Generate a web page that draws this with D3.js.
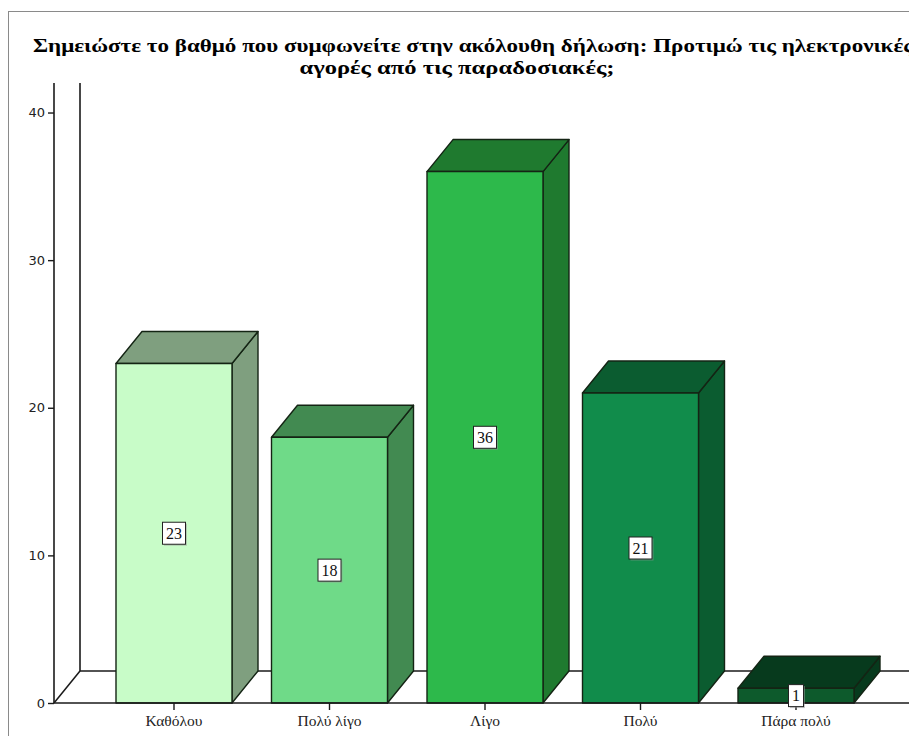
<!DOCTYPE html>
<html>
<head>
<meta charset="utf-8">
<script src="https://cdn.jsdelivr.net/npm/d3@7/dist/d3.min.js"></script>
<style>
  html, body { margin: 0; padding: 0; background: #ffffff; }
  svg { display: block; }
</style>
</head>
<body>
<svg id="chart" width="909" height="736"></svg>
<script>
// Responses to: "Σημειώστε το βαθμό που συμφωνείτε ..." (counts)
const categories = ["Καθόλου", "Πολύ λίγο", "Λίγο", "Πολύ", "Πάρα πολύ"];
const counts = [23, 18, 36, 21, 1];
const yTicks = [0, 10, 20, 30, 40];
const frontColors = ["#c8fcc8", "#6fda88", "#2db94b", "#118c4b", "#0d5a2c"];
const sideColors = ["#7f9f7f", "#428a51", "#1f7a2f", "#0b5c30", "#073a1d"];
const titleLines = [
  "Σημειώστε το βαθμό που συμφωνείτε στην ακόλουθη δήλωση: Προτιμώ τις ηλεκτρονικές",
  "αγορές από τις παραδοσιακές;"
];

const svg = d3.select("#chart");
const W = 909, H = 736;

// 3D depth offset of the bars and the floor
const dx = 26, dy = 32;

const y = d3.scaleLinear().domain([0, 42]).range([703, 83]);
const x = d3.scaleBand()
  .domain(categories)
  .range([96.25, 873.75])
  .paddingInner(0.254)
  .paddingOuter(0.127);

// outer frame
svg.append("rect")
  .attr("x", 8.5).attr("y", 11.5)
  .attr("width", W + 20).attr("height", H + 20)
  .attr("fill", "none")
  .attr("stroke", "#8a8a8a")
  .attr("stroke-width", 1);

// title, two centred lines
const titleLayout = [
  { x: 473, y: 52, len: 880 },
  { x: 457, y: 74, len: 315 }
];
titleLines.forEach((t, i) => {
  svg.append("text")
    .attr("x", titleLayout[i].x).attr("y", titleLayout[i].y)
    .attr("text-anchor", "middle")
    .attr("font-family", "'Liberation Serif', 'Times New Roman', serif")
    .attr("font-weight", "bold")
    .attr("font-size", 18.5)
    .attr("textLength", titleLayout[i].len)
    .attr("lengthAdjust", "spacingAndGlyphs")
    .attr("fill", "#000")
    .text(t);
});

const y0 = y(0);
const axisStroke = "#1a1a1a";

// back wall and floor outline
const floor = svg.append("g").attr("stroke", axisStroke).attr("stroke-width", 1.6).attr("fill", "none");
floor.append("line").attr("x1", 54 + dx).attr("x2", 54 + dx).attr("y1", y(42)).attr("y2", y0 - dy);
floor.append("line").attr("x1", 54 + dx).attr("x2", W + 5).attr("y1", y0 - dy).attr("y2", y0 - dy);
floor.append("line").attr("x1", 54).attr("x2", 54 + dx).attr("y1", y0).attr("y2", y0 - dy);

// y axis
const yAxis = d3.axisLeft(y).tickValues(yTicks).tickSize(6).tickPadding(3).tickFormat(d3.format("d"));
const gy = svg.append("g").attr("transform", "translate(54,0)").call(yAxis);
gy.select(".domain").attr("stroke", axisStroke).attr("stroke-width", 1.6).attr("d", `M0,${y(42)}V${y0}`);
gy.selectAll(".tick line").attr("stroke", axisStroke).attr("stroke-width", 1.4);
gy.selectAll(".tick text")
  .attr("font-family", "'DejaVu Sans', Tahoma, sans-serif")
  .attr("font-size", 13)
  .attr("fill", "#222");

// bars as 3D boxes
const bars = svg.append("g").selectAll("g.bar")
  .data(categories.map((c, i) => ({ c, v: counts[i], i })))
  .join("g").attr("class", "bar");

bars.each(function (d) {
  const g = d3.select(this);
  const x0 = x(d.c), x1 = x0 + x.bandwidth(), top = y(d.v);
  const line = d3.line();
  // side face
  g.append("path")
    .attr("d", line([[x1, y0], [x1 + dx, y0 - dy], [x1 + dx, top - dy], [x1, top]]) + "Z")
    .attr("fill", sideColors[d.i]);
  // top face
  g.append("path")
    .attr("d", line([[x0, top], [x0 + dx, top - dy], [x1 + dx, top - dy], [x1, top]]) + "Z")
    .attr("fill", sideColors[d.i]);
  // front face
  g.append("rect")
    .attr("x", x0).attr("y", top)
    .attr("width", x.bandwidth()).attr("height", y0 - top)
    .attr("fill", frontColors[d.i]);
  g.selectAll("path, rect")
    .attr("stroke", "#142414")
    .attr("stroke-width", 1.4)
    .attr("stroke-linejoin", "round");
});

// front baseline (x axis)
const xAxis = d3.axisBottom(x).tickSize(7).tickPadding(5);
const gx = svg.append("g").attr("transform", `translate(0,${y0})`).call(xAxis);
gx.select(".domain").attr("stroke", axisStroke).attr("stroke-width", 1.6).attr("d", `M54,0H${W + 5}`);
gx.selectAll(".tick line").attr("stroke", axisStroke).attr("stroke-width", 1.4);
gx.selectAll(".tick text")
  .attr("font-family", "'Liberation Serif', 'Times New Roman', serif")
  .attr("font-size", 15.5)
  .attr("fill", "#222");

// value labels in the middle of each front face
const labels = svg.append("g").selectAll("g.lbl")
  .data(categories.map((c, i) => ({ c, v: counts[i] })))
  .join("g").attr("class", "lbl");

labels.each(function (d) {
  const g = d3.select(this);
  const cx = x(d.c) + x.bandwidth() / 2;
  const cy = (y(d.v) + y0) / 2;
  const t = g.append("text")
    .attr("x", cx).attr("y", cy)
    .attr("text-anchor", "middle")
    .attr("dominant-baseline", "central")
    .attr("font-family", "'Liberation Serif', 'Times New Roman', serif")
    .attr("font-size", 16)
    .attr("fill", "#111")
    .text(d.v);
  const w = t.node().getComputedTextLength() + 7;
  const h = 22;
  g.insert("rect", "text")
    .attr("x", cx - w / 2 + 1.5).attr("y", cy - h / 2 + 1.5)
    .attr("width", w).attr("height", h)
    .attr("fill", "#9a9a9a").attr("opacity", 0.5);
  g.insert("rect", "text")
    .attr("x", cx - w / 2).attr("y", cy - h / 2)
    .attr("width", w).attr("height", h)
    .attr("fill", "#ffffff")
    .attr("stroke", "#222").attr("stroke-width", 1);
});
</script>
</body>
</html>
